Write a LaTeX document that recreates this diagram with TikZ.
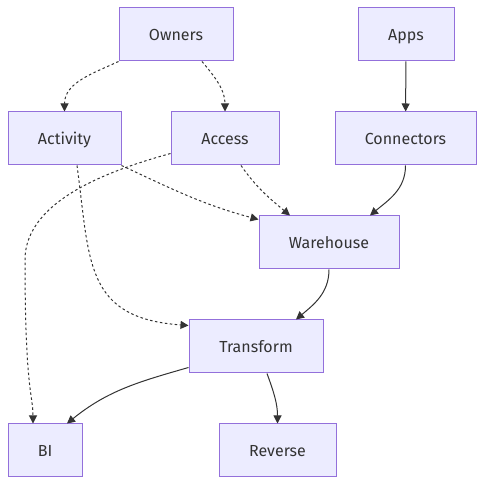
\documentclass[tikz,border=0pt]{standalone}
\usepackage{fontspec}
\setmainfont{Fira Sans}
\usetikzlibrary{arrows.meta}
\definecolor{boxfill}{HTML}{ECECFF}
\definecolor{boxline}{HTML}{9370DB}
\definecolor{ink}{HTML}{333333}
\begin{document}
\begin{tikzpicture}
  [x=1pt,y=1pt,every node/.style={draw=boxline,fill=boxfill,line width=1pt,
   minimum height=53pt,text height=11.5pt,text depth=0pt,text=ink,font=\fontsize{16}{19}\selectfont}]
  \tikzstyle{flow} = [draw=ink,line width=1pt,-{Triangle[length=8pt,width=8pt]}]
  \tikzstyle{dep} = [flow,dash pattern=on 2.5pt off 2.5pt]
  \useasboundingbox (0,0) rectangle (485,486);
  \node[minimum width=114pt] (owners)     at (176,451.5)   {Owners};
  \node[minimum width=96pt]  (apps)       at (406,451.5)   {Apps};
  \node[minimum width=113pt] (activity)   at (64.5,347.5)  {Activity};
  \node[minimum width=108pt] (access)     at (225,347.5)   {Access};
  \node[minimum width=141pt] (connectors) at (405.5,347.5) {Connectors};
  \node[minimum width=140pt] (warehouse)  at (329,243.5)   {Warehouse};
  \node[minimum width=134pt] (transform)  at (256,139.5)   {Transform};
  \node[minimum width=74pt]  (bi)         at (45,35.5)     {BI};
  \node[minimum width=117pt] (reverse)    at (277.5,35.5)  {Reverse};
  % dotted links
  \draw[dep] (owners.south west) to[out=205,in=90] (activity.north);
  \draw[dep] ([xshift=26pt]owners.south) to[out=-50,in=90] (access.north);
  \draw[dep] (activity.south east) to[out=-25,in=165] ([yshift=-4pt]warehouse.north west);
  \draw[dep] ([xshift=16pt]access.south) to[out=-55,in=140] ([xshift=-39pt]warehouse.north);
  \draw[dep] ([xshift=12.5pt]activity.south) .. controls (90,225) and (84,168) .. ([yshift=-6pt]transform.north west);
  \draw[dep] ([yshift=12pt]access.south west) .. controls (111,316) and (25,286) .. (25,226)
    .. controls (25,96) and (33,91) .. ([xshift=-12pt]bi.north);
  % solid links
  \draw[flow] (apps) -- (connectors);
  \draw[flow] (connectors.south) to[out=-90,in=40] ([xshift=41pt]warehouse.north);
  \draw[flow] (warehouse.south) to[out=-90,in=40] ([xshift=40pt]transform.north);
  \draw[flow] ([yshift=6pt]transform.south west) to[out=196,in=39] ([xshift=22pt]bi.north);
  \draw[flow] ([xshift=11pt]transform.south) to[out=-70,in=90] (reverse.north);
\end{tikzpicture}
\end{document}
